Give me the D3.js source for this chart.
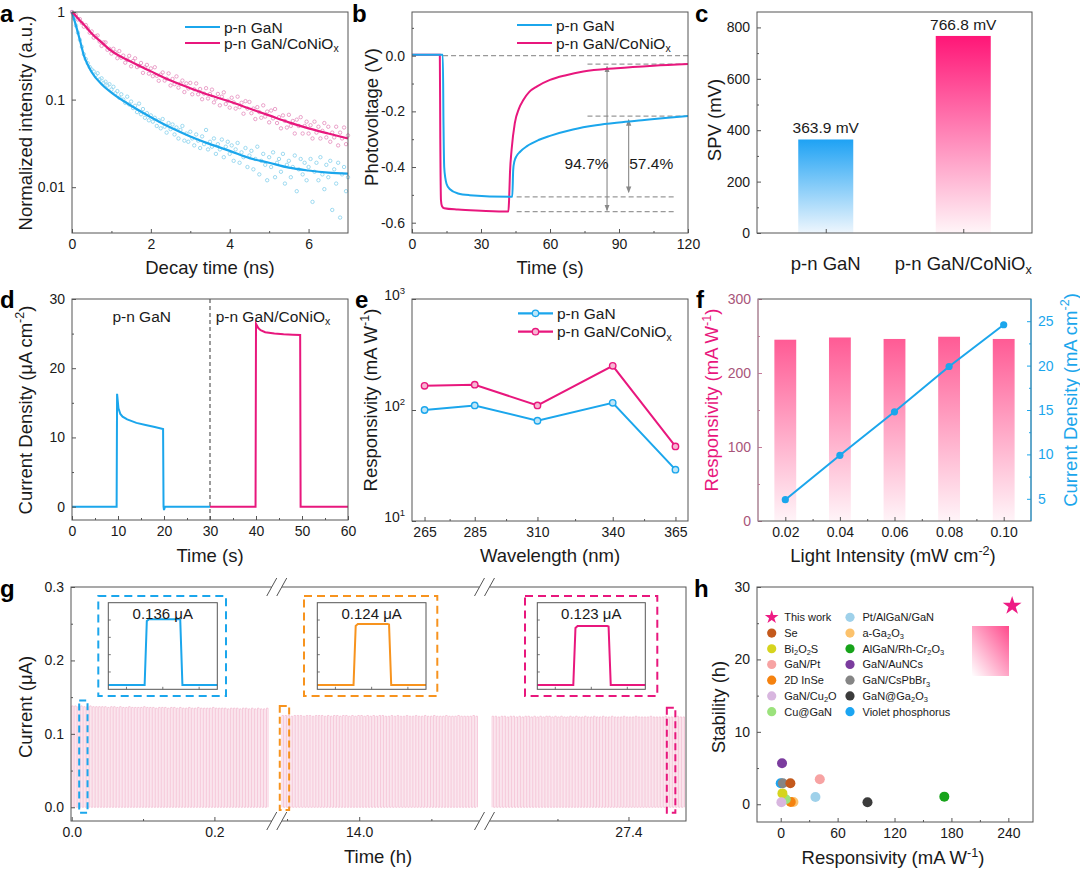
<!DOCTYPE html>
<html><head><meta charset="utf-8">
<script src="https://cdn.jsdelivr.net/npm/d3@7"></script>
<style>body{margin:0;background:#fff}svg{display:block}</style>
</head><body><svg id="fig" width="1080" height="869"></svg>
<script>
// ---------- data ----------
// a: PL decay (points every decayStep ns)
var decayStep = 0.05;
var decayGaN = [1.0,0.84,0.7,0.58,0.48,0.4,0.33,0.29,0.26,0.235,
  0.22,0.21,0.19,0.2,0.17,0.175,0.155,0.16,0.145,0.15,
  0.13,0.14,0.118,0.125,0.105,0.115,0.1,0.092,0.108,0.088,
  0.095,0.08,0.085,0.072,0.09,0.068,0.078,0.062,0.07,0.058,
  0.066,0.056,0.062,0.05,0.058,0.047,0.06,0.049,0.042,0.054,
  0.046,0.052,0.04,0.048,0.036,0.045,0.05,0.034,0.041,0.033,
  0.043,0.036,0.03,0.04,0.034,0.028,0.038,0.031,0.045,0.027,
  0.033,0.029,0.036,0.024,0.031,0.027,0.035,0.022,0.029,0.033,
  0.024,0.03,0.02,0.027,0.032,0.019,0.025,0.022,0.028,0.017,
  0.023,0.026,0.016,0.021,0.029,0.014,0.02,0.024,0.018,0.012,
  0.022,0.017,0.025,0.013,0.019,0.021,0.015,0.024,0.011,0.018,
  0.02,0.013,0.017,0.023,0.009,0.016,0.021,0.014,0.019,0.012,
  0.017,0.021,0.0068,0.015,0.019,0.012,0.022,0.014,0.0095,0.018,
  0.013,0.02,0.0055,0.016,0.011,0.019,0.0045,0.014,0.017,0.009,0.013];
var decayCo = [1,0.93,0.93,0.82,0.83,0.75,0.68,0.71,0.65,0.58,
  0.6,0.51,0.53,0.54,0.46,0.41,0.45,0.45,0.37,0.38,
  0.335,0.38,0.347,0.297,0.358,0.3,0.318,0.264,0.285,0.316,
  0.24,0.276,0.296,0.235,0.242,0.262,0.202,0.233,0.249,0.198,
  0.227,0.185,0.234,0.187,0.164,0.193,0.204,0.165,0.173,0.199,
  0.145,0.172,0.15,0.184,0.137,0.152,0.165,0.122,0.153,0.134,
  0.155,0.115,0.131,0.153,0.115,0.132,0.101,0.117,0.135,0.103,
  0.116,0.13,0.093,0.103,0.116,0.086,0.108,0.121,0.089,0.097,
  0.081,0.105,0.093,0.079,0.108,0.082,0.092,0.069,0.096,0.079,
  0.094,0.07,0.079,0.06,0.082,0.072,0.062,0.086,0.064,0.073,
  0.055,0.075,0.061,0.078,0.054,0.063,0.047,0.066,0.057,0.048,
  0.067,0.05,0.057,0.041,0.059,0.05,0.063,0.041,0.05,0.056,
  0.041,0.051,0.036,0.056,0.042,0.049,0.036,0.044,0.054,0.037,
  0.049,0.033,0.042,0.037,0.049,0.03,0.042,0.036,0.048,0.031,0.039];
var fitTime = [0,0.1,0.2,0.3,0.4,0.5,0.75,1,1.5,2,2.5,3,3.5,4,4.5,5,5.5,6,6.5,7];
var fitGaN = [1,0.7,0.48,0.32,0.25,0.205,0.15,0.12,0.085,0.063,0.048,0.038,0.031,0.026,0.0215,0.019,0.0167,0.0155,0.0147,0.0143];
var fitCo = [1,0.9,0.8,0.72,0.64,0.57,0.45,0.36,0.27,0.21,0.165,0.135,0.112,0.095,0.079,0.066,0.055,0.047,0.041,0.036];

// b: photovoltage transients
var pvTimeGaN = [0,13.4,13.7,14,14.5,15,16.5,20,25,43.6,44,44.5,45.5,47,50,55,60,70,80,90,100,110,120];
var pvGaN = [0.003,0.003,-0.25,-0.4,-0.44,-0.46,-0.48,-0.495,-0.501,-0.507,-0.41,-0.38,-0.36,-0.345,-0.325,-0.303,-0.288,-0.265,-0.25,-0.24,-0.232,-0.224,-0.217];
var pvTimeCo = [0,12.1,12.3,12.6,13,14,20,30,41.9,42.2,42.6,43.3,44.7,46.5,48.4,51,54.2,60,67,74.5,89,105,120];
var pvCo = [0.003,0.003,-0.3,-0.52,-0.54,-0.548,-0.553,-0.557,-0.56,-0.52,-0.42,-0.338,-0.242,-0.19,-0.159,-0.13,-0.111,-0.087,-0.07,-0.057,-0.045,-0.036,-0.03];
var pvLevels = [0, -0.03, -0.217, -0.507, -0.56];
var pvPercent = ["94.7%", "57.4%"];

// c: SPV
var spvLabels = ["p-n GaN", "p-n GaN/CoNiO_{x}"];
var spvValues = [363.9, 766.8];

// d: current density on/off
var jTimeGaN = [0,9.7,9.8,10.1,10.5,11,12,14,16,18,19.8,19.9,20,20.2,30];
var jGaN = [0,0,16.3,14.2,13.4,13,12.6,12.1,11.8,11.5,11.2,0,-0.5,0,0];
var jTimeCo = [30,39.9,40,40.5,41,42,44,46,48,49.6,49.7,60];
var jCo = [0,0,26.4,25.8,25.5,25.2,25,24.9,24.85,24.8,0,0];

// e: responsivity vs wavelength
var wavelength = [265,285,310,340,365];
var respGaN = [100,110,80,116,29];
var respCo = [165,169,110,250,47];

// f: light intensity dependence
var lightInt = [0.02,0.04,0.06,0.08,0.10];
var fResp = [245,248,246,249,246];
var fCurrent = [4.9,9.9,14.8,19.9,24.6];

// g: long-term switching (amplitudes in nA, one per pulse)
var gPeriod = 0.0042; // h per on/off cycle
var gStart = [0, 13.893, 27.208];
var gAmp1 = [138,138,137,138,137,137,138,137,137,137,137,137,136,137,137,136,137,136,136,137,
  136,136,136,136,137,136,136,136,135,136,136,136,135,136,136,135,136,135,135,136,
  135,135,136,135,135,135,135,136,135,135,135,135,134,135,135,135,134,135,135,134,135,134,135,134,134,135];
var gAmp2 = [125,125,125,124,125,125,125,124,125,125,124,125,125,125,124,125,124,125,125,124,
  125,125,124,125,124,125,125,124,125,124,125,124,125,125,124,124,125,124,125,124,
  124,125,124,124,125,124,124,125,124,124,125,124,124,124,125,124,124,124,125,124,124,124,124,125,124];
var gAmp3 = [124,124,123,124,124,123,124,124,123,124,123,124,124,123,124,123,124,123,124,124,
  123,124,123,124,123,123,124,123,124,123,123,124,123,123,124,123,123,124,123,123,
  124,123,123,123,124,123,123,123,124,123,123,123,123,124,123,123,123,123,124,123,123,123,124,123,123];
var gInsetTime = [0,10.0,10.6,11.2,19.4,19.8,20.4,30];
var gInset1 = [0,0,0.132,0.136,0.136,0.135,0,0];
var gInset2 = [0,0,0.12,0.124,0.124,0.123,0,0];
var gInset3 = [0,0,0.119,0.123,0.123,0.122,0,0];
var gInsetLabels = ["0.136 \u03bcA", "0.124 \u03bcA", "0.123 \u03bcA"];
var gMarked = [[0.0105,0.0222,-0.0074,0.1454],[13.8899,13.9029,-0.0037,0.138],[27.454,27.466,-0.0074,0.1355]];

// h: comparison
var hNames = ["This work","Se","Bi_{2}O_{2}S","GaN/Pt","2D InSe","GaN/Cu_{2}O","Cu@GaN","Pt/AlGaN/GaN","a-Ga_{2}O_{3}","AlGaN/Rh-Cr_{2}O_{3}","GaN/AuNCs","GaN/CsPbBr_{3}","GaN@Ga_{2}O_{3}","Violet phosphorus"];
var hResp = [244,10.2,1.8,41.2,10.6,0.7,5.3,36.6,13.4,172.5,1.4,2.2,91.5,0];
var hStab = [27.4,2.9,1.5,3.45,0.32,0.28,0.7,1.0,0.3,1.05,5.67,2.9,0.28,2.9];
var hColors = ["#ee1b84","#c4591c","#d6d41e","#f7a3a3","#f5820f","#d8b6df","#9be27c","#9fd1ea","#fcc26c","#17a31a","#7b3c9e","#858585","#3b3b3b","#1ba5f2"];
var hOrder = [13,8,4,6,2,5,11,1,10,3,7,12,9,0];

// ---------- helpers ----------
var svg = d3.select("#fig");
var FONT = "'Liberation Sans', Arial, Helvetica, sans-serif";
var AXC = "#555", TXT = "#1a1a1a", BLUE = "#1ba6ec", PINK = "#e8177d";
svg.attr("font-family", FONT);
var defs = svg.append("defs");

function grad(id, top, bot, diag) {
  var lg = defs.append("linearGradient").attr("id", id);
  if (diag) lg.attr("x1", 1).attr("y1", 0).attr("x2", 0).attr("y2", 1);
  else lg.attr("x1", 0).attr("y1", 0).attr("x2", 0).attr("y2", 1);
  lg.append("stop").attr("offset", 0).attr("stop-color", top);
  lg.append("stop").attr("offset", 1).attr("stop-color", bot);
}
grad("gBlue", "#1ea2f4", "#eef6fd");
grad("gPink", "#ff1677", "#fff5f8");
grad("gPinkF", "#ff5b95", "#fff4f8");
grad("gPinkH", "#ff4a8c", "#ffffff", true);

var mk = defs.append("marker").attr("id", "arr").attr("viewBox", "0 0 10 10").attr("refX", 9).attr("refY", 5)
  .attr("markerWidth", 6).attr("markerHeight", 6).attr("orient", "auto-start-reverse");
mk.append("path").attr("d", "M0,1L10,5L0,9Z").attr("fill", "#888");

function rich(t, s, size) {
  var parts = String(s).split(/([\^_]\{[^}]*\})/);
  var off = 0;
  parts.forEach(function (p) {
    if (!p) return;
    var sh = 0, txt = p, small = false;
    if (/^[\^_]\{/.test(p)) { small = true; txt = p.slice(2, -1); sh = p[0] === "^" ? -0.4 * size : 0.22 * size; }
    var ts = t.append("tspan").attr("dy", sh - off).text(txt);
    if (small) ts.attr("font-size", size * 0.68);
    off = sh;
  });
}
function label(g, x, y, s, size, o) {
  o = o || {};
  var t = g.append("text").attr("x", x).attr("y", y).attr("font-size", size)
    .attr("fill", o.fill || TXT).attr("text-anchor", o.anchor || "middle");
  if (o.rotate) t.attr("transform", "rotate(-90," + x + "," + y + ")");
  if (o.weight) t.attr("font-weight", o.weight);
  rich(t, s, size);
  return t;
}
function styleAx(ax, col, tcol) {
  ax.attr("font-family", FONT).attr("font-size", 14);
  ax.select(".domain").remove();
  ax.selectAll(".tick line").attr("stroke", col || AXC);
  ax.selectAll(".tick text").attr("fill", tcol || TXT);
  return ax;
}
var blank = function () { return ""; };
function bottomAxis(g, x, yPos, ticks, fmt, minor) {
  var ax = styleAx(g.append("g").attr("transform", "translate(0," + yPos + ")")
    .call(d3.axisBottom(x).tickValues(ticks).tickFormat(fmt).tickSizeInner(-4).tickSizeOuter(0).tickPadding(6)));
  if (minor) styleAx(g.append("g").attr("transform", "translate(0," + yPos + ")")
    .call(d3.axisBottom(x).tickValues(minor).tickFormat(blank).tickSizeInner(-2).tickSizeOuter(0)));
  return ax;
}
function leftAxis(g, y, xPos, ticks, fmt, minor, col, tcol) {
  var ax = styleAx(g.append("g").attr("transform", "translate(" + xPos + ",0)")
    .call(d3.axisLeft(y).tickValues(ticks).tickFormat(fmt).tickSizeInner(-4).tickSizeOuter(0).tickPadding(7)), col, tcol);
  if (minor) styleAx(g.append("g").attr("transform", "translate(" + xPos + ",0)")
    .call(d3.axisLeft(y).tickValues(minor).tickFormat(blank).tickSizeInner(-2).tickSizeOuter(0)), col);
  return ax;
}
function frame(g, L, col) {
  g.append("rect").attr("x", L.l).attr("y", L.t).attr("width", L.r - L.l).attr("height", L.b - L.t)
    .attr("fill", "none").attr("stroke", col || AXC).attr("stroke-width", 1);
}
function legendLine(g, x0, x1, y, color, text, dot) {
  g.append("line").attr("x1", x0).attr("x2", x1).attr("y1", y).attr("y2", y).attr("stroke", color).attr("stroke-width", 2.2);
  if (dot) g.append("circle").attr("cx", (x0 + x1) / 2).attr("cy", y).attr("r", 3.2).attr("fill", dot).attr("stroke", color).attr("stroke-width", 1.3);
  label(g, x1 + 4, y + 5.5, text, 15.5, { anchor: "start" });
}
function panelTag(g, x, y, s) { label(g, x, y, s, 24, { anchor: "start", weight: "bold", fill: "#000" }); }
function fx(v) { return function (d) { return d.toFixed(v); }; }

// ---------- a ----------
(function () {
  var L = { l: 72, r: 348, t: 12, b: 233 };
  var g = svg.append("g");
  var x = d3.scaleLinear().domain([0, 7]).range([L.l, L.r]);
  var y = d3.scaleLog().domain([0.003, 1]).range([L.b, L.t]);
  [[decayGaN, "#86d0ec"], [decayCo, "#e58cbc"]].forEach(function (s) {
    g.append("g").selectAll("circle").data(s[0]).join("circle")
      .attr("cx", function (d, i) { return x(i * decayStep); }).attr("cy", function (d) { return y(d); })
      .attr("r", 1.7).attr("fill", "none").attr("stroke", s[1]).attr("stroke-width", 0.8);
  });
  [[fitGaN, BLUE], [fitCo, PINK]].forEach(function (s) {
    g.append("path").datum(s[0]).attr("fill", "none").attr("stroke", s[1]).attr("stroke-width", 2.2)
      .attr("d", d3.line().x(function (d, i) { return x(fitTime[i]); }).y(function (d) { return y(d); }).curve(d3.curveMonotoneX));
  });
  bottomAxis(g, x, L.b, [0, 2, 4, 6], fx(0), [1, 3, 5]);
  leftAxis(g, y, L.l, [1, 0.1, 0.01], function (d) { return String(d); });
  frame(g, L);
  legendLine(g, 185, 220, 27, BLUE, "p-n GaN");
  legendLine(g, 185, 220, 43, PINK, "p-n GaN/CoNiO_{x}");
  label(g, 210, 274, "Decay time (ns)", 18.5);
  label(g, 31.5, 123, "Normalized intensity (a.u.)", 18.5, { rotate: true });
  panelTag(g, 0, 22, "a");
})();

// ---------- b ----------
(function () {
  var L = { l: 412, r: 688, t: 12, b: 233 };
  var g = svg.append("g");
  var x = d3.scaleLinear().domain([0, 120]).range([L.l, L.r]);
  var y = d3.scaleLinear().domain([-0.637, 0.157]).range([L.b, L.t]);
  var guides = [[pvLevels[0], 13.5, 120], [pvLevels[1], 76.3, 120], [pvLevels[2], 76.3, 120], [pvLevels[3], 45.5, 115], [pvLevels[4], 45.5, 115]];
  guides.forEach(function (d) {
    g.append("line").attr("x1", x(d[1])).attr("x2", x(d[2])).attr("y1", y(d[0])).attr("y2", y(d[0]))
      .attr("stroke", "#999").attr("stroke-width", 1.2).attr("stroke-dasharray", "5,3");
  });
  [[84.8, -0.039, -0.556], [94.2, -0.23, -0.491]].forEach(function (d) {
    g.append("line").attr("x1", x(d[0])).attr("x2", x(d[0])).attr("y1", y(d[1])).attr("y2", y(d[2]))
      .attr("stroke", "#888").attr("stroke-width", 1.1).attr("marker-start", "url(#arr)").attr("marker-end", "url(#arr)");
  });
  [[pvTimeCo, pvCo, PINK], [pvTimeGaN, pvGaN, BLUE]].forEach(function (s) {
    g.append("path").datum(s[1]).attr("fill", "none").attr("stroke", s[2]).attr("stroke-width", 2)
      .attr("d", d3.line().x(function (d, i) { return x(s[0][i]); }).y(function (d) { return y(d); }).curve(d3.curveMonotoneX));
  });
  label(g, x(75.9), y(-0.386) + 5.5, pvPercent[0], 15.5);
  label(g, x(104), y(-0.386) + 5.5, pvPercent[1], 15.5);
  bottomAxis(g, x, L.b, [0, 30, 60, 90, 120], fx(0), [15, 45, 75, 105]);
  leftAxis(g, y, L.l, [0, -0.2, -0.4, -0.6], fx(1), [0.1, -0.1, -0.3, -0.5]);
  frame(g, L);
  legendLine(g, 517, 552, 25, BLUE, "p-n GaN");
  legendLine(g, 517, 552, 43, PINK, "p-n GaN/CoNiO_{x}");
  label(g, 550, 274, "Time (s)", 18.5);
  label(g, 378, 117, "Photovoltage (V)", 18.5, { rotate: true });
  panelTag(g, 352, 22, "b");
})();

// ---------- c ----------
(function () {
  var L = { l: 757, r: 1032, t: 12, b: 233 };
  var g = svg.append("g");
  var x = d3.scalePoint().domain(spvLabels).range([L.l, L.r]).padding(0.5);
  var y = d3.scaleLinear().domain([0, 860]).range([L.b, L.t]);
  g.selectAll(".bar").data(spvValues).join("rect")
    .attr("x", function (d, i) { return x(spvLabels[i]) - 27.5; }).attr("width", 55)
    .attr("y", function (d) { return y(d); }).attr("height", function (d) { return y(0) - y(d); })
    .attr("fill", function (d, i) { return i ? "url(#gPink)" : "url(#gBlue)"; });
  spvValues.forEach(function (d, i) { label(g, x(spvLabels[i]), y(d) - 6, d.toFixed(1) + " mV", 15.5); });
  styleAx(g.append("g").attr("transform", "translate(0," + L.b + ")")
    .call(d3.axisBottom(x).tickFormat(blank).tickSizeInner(-4).tickSizeOuter(0)));
  spvLabels.forEach(function (s) { label(g, x(s), 269.5, s, 18.5); });
  leftAxis(g, y, L.l, [0, 200, 400, 600, 800], fx(0), [100, 300, 500, 700]);
  frame(g, L);
  label(g, 721, 120, "SPV (mV)", 18.5, { rotate: true });
  panelTag(g, 695, 22, "c");
})();

// ---------- d ----------
(function () {
  var L = { l: 72, r: 348, t: 299, b: 520 };
  var g = svg.append("g");
  var x = d3.scaleLinear().domain([0, 60]).range([L.l, L.r]);
  var y = d3.scaleLinear().domain([-1.93, 30]).range([L.b, L.t]);
  g.append("line").attr("x1", x(30)).attr("x2", x(30)).attr("y1", L.t).attr("y2", L.b)
    .attr("stroke", "#666").attr("stroke-width", 1.3).attr("stroke-dasharray", "4,3");
  [[jTimeGaN, jGaN, BLUE], [jTimeCo, jCo, PINK]].forEach(function (s) {
    g.append("path").datum(s[1]).attr("fill", "none").attr("stroke", s[2]).attr("stroke-width", 2)
      .attr("d", d3.line().x(function (d, i) { return x(s[0][i]); }).y(function (d) { return y(d); }));
  });
  bottomAxis(g, x, L.b, [0, 10, 20, 30, 40, 50, 60], fx(0), [5, 15, 25, 35, 45, 55]);
  leftAxis(g, y, L.l, [0, 10, 20, 30], fx(0), [5, 15, 25]);
  frame(g, L);
  label(g, 141.7, 322, "p-n GaN", 15.5);
  label(g, 273, 322, "p-n GaN/CoNiO_{x}", 15.5);
  label(g, 210, 562, "Time (s)", 18.5);
  label(g, 31.5, 410, "Current Density (\u03bcA cm^{-2})", 18.5, { rotate: true });
  panelTag(g, 0, 308, "d");
})();

// ---------- e ----------
(function () {
  var L = { l: 412, r: 688, t: 299, b: 521 };
  var g = svg.append("g");
  var x = d3.scaleLinear().domain([260, 370]).range([L.l, L.r]);
  var y = d3.scaleLog().domain([10, 1000]).range([L.b, L.t]);
  [[respGaN, BLUE, "#bfe6f8"], [respCo, PINK, "#f7b5d2"]].forEach(function (s) {
    g.append("path").datum(s[0]).attr("fill", "none").attr("stroke", s[1]).attr("stroke-width", 2)
      .attr("d", d3.line().x(function (d, i) { return x(wavelength[i]); }).y(function (d) { return y(d); }));
    g.append("g").selectAll("circle").data(s[0]).join("circle")
      .attr("cx", function (d, i) { return x(wavelength[i]); }).attr("cy", function (d) { return y(d); })
      .attr("r", 3.2).attr("fill", s[2]).attr("stroke", s[1]).attr("stroke-width", 1.4);
  });
  bottomAxis(g, x, L.b, wavelength, fx(0), [275, 297.5, 325, 352.5]);
  var ay = leftAxis(g, y, L.l, [10, 100, 1000], blank);
  ay.selectAll(".tick text").each(function (d) {
    var t = d3.select(this); t.text(""); rich(t, "10^{" + Math.round(Math.log10(d)) + "}", 14);
  });
  frame(g, L);
  legendLine(g, 518, 553, 313.3, BLUE, "p-n GaN", "#bfe6f8");
  legendLine(g, 518, 553, 331.7, PINK, "p-n GaN/CoNiO_{x}", "#f7b5d2");
  label(g, 550, 562, "Wavelength (nm)", 18.5);
  label(g, 376.5, 400, "Responsivity (mA W^{-1})", 18.5, { rotate: true });
  panelTag(g, 355, 308, "e");
})();

// ---------- f ----------
(function () {
  var L = { l: 758, r: 1031, t: 299, b: 521 };
  var g = svg.append("g");
  var x = d3.scaleLinear().domain([0.01, 0.11]).range([L.l, L.r]);
  var yL = d3.scaleLinear().domain([0, 300]).range([L.b, L.t]);
  var yR = d3.scaleLinear().domain([2.5, 27.5]).range([L.b, L.t]);
  g.append("g").selectAll("rect").data(fResp).join("rect")
    .attr("x", function (d, i) { return x(lightInt[i] - 0.004); })
    .attr("width", function (d, i) { return x(lightInt[i] + 0.004) - x(lightInt[i] - 0.004); })
    .attr("y", function (d) { return yL(d); }).attr("height", function (d) { return yL(0) - yL(d); })
    .attr("fill", "url(#gPinkF)");
  g.append("path").datum(fCurrent).attr("fill", "none").attr("stroke", BLUE).attr("stroke-width", 2)
    .attr("d", d3.line().x(function (d, i) { return x(lightInt[i]); }).y(function (d) { return yR(d); }));
  g.append("g").selectAll("circle").data(fCurrent).join("circle")
    .attr("cx", function (d, i) { return x(lightInt[i]); }).attr("cy", function (d) { return yR(d); })
    .attr("r", 3.6).attr("fill", BLUE);
  bottomAxis(g, x, L.b, lightInt, fx(2), [0.03, 0.05, 0.07, 0.09]);
  leftAxis(g, yL, L.l, [0, 100, 200, 300], fx(0), [50, 150, 250], "#c77a9a", "#a8557a");
  styleAx(g.append("g").attr("transform", "translate(" + L.r + ",0)")
    .call(d3.axisRight(yR).tickValues([5, 10, 15, 20, 25]).tickFormat(fx(0)).tickSizeInner(-4).tickSizeOuter(0).tickPadding(7)), BLUE, BLUE);
  styleAx(g.append("g").attr("transform", "translate(" + L.r + ",0)")
    .call(d3.axisRight(yR).tickValues([7.5, 12.5, 17.5, 22.5]).tickFormat(blank).tickSizeInner(-2).tickSizeOuter(0)), BLUE);
  frame(g, L);
  g.append("line").attr("x1", L.l).attr("x2", L.l).attr("y1", L.t).attr("y2", L.b).attr("stroke", "#d69ab3");
  g.append("line").attr("x1", L.r).attr("x2", L.r).attr("y1", L.t).attr("y2", L.b).attr("stroke", BLUE);
  label(g, 893, 562, "Light Intensity (mW cm^{-2})", 18.5);
  label(g, 718, 400, "Responsivity (mA W^{-1})", 18.5, { rotate: true, fill: PINK });
  label(g, 1076.5, 400, "Current Density (mA cm^{-2})", 18.5, { rotate: true, fill: BLUE });
  panelTag(g, 696, 308, "f");
})();

// ---------- g ----------
(function () {
  var L = { l: 71, r: 686, t: 587, b: 821 };
  var g = svg.append("g");
  var y = d3.scaleLinear().domain([-0.0187, 0.3]).range([L.b, L.t]);
  var segs = [
    { x: d3.scaleLinear().domain([0, 0.28]).range([71.7, 271.5]), ticks: [0, 0.2], minor: [0.1], amps: gAmp1 },
    { x: d3.scaleLinear().domain([13.893, 14.166]).range([282, 479]), ticks: [14.0], minor: [13.9, 14.1], amps: gAmp2 },
    { x: d3.scaleLinear().domain([27.205, 27.481]).range([490, 686]), ticks: [27.4], minor: [27.3], amps: gAmp3 }
  ];
  segs.forEach(function (s, si) {
    var pts = [];
    s.amps.forEach(function (a, k) {
      var t0 = gStart[si] + k * gPeriod, t1 = t0 + gPeriod / 2;
      pts.push([t0, 0], [t0, a / 1000], [t1, a / 1000], [t1, 0]);
    });
    g.append("path").datum(pts).attr("fill", "none").attr("stroke", "#f2b3cc").attr("stroke-width", 0.7)
      .attr("d", d3.line().x(function (d) { return Math.min(s.x(d[0]), L.r); }).y(function (d) { return y(d[1]); }));
    bottomAxis(g, s.x, L.b, s.ticks, fx(1), s.minor);
  });
  leftAxis(g, y, L.l, [0, 0.1, 0.2, 0.3], fx(1), [0.05, 0.15, 0.25]);
  frame(g, L);
  // axis breaks
  [(271.5 + 282) / 2, (479 + 490) / 2].forEach(function (cx) {
    [L.t, L.b].forEach(function (cy) {
      g.append("rect").attr("x", cx - 5).attr("y", cy - 2).attr("width", 10).attr("height", 4).attr("fill", "#fff");
      [-5, 5].forEach(function (o) {
        g.append("line").attr("x1", cx + o - 5).attr("y1", cy + 9).attr("x2", cx + o + 5).attr("y2", cy - 9).attr("stroke", AXC).attr("stroke-width", 1);
      });
    });
  });
  var cols = [BLUE, "#f7931e", PINK];
  // marked pulses
  gMarked.forEach(function (m, i) {
    var s = segs[i];
    g.append("rect").attr("x", s.x(m[0])).attr("y", y(m[3])).attr("width", s.x(m[1]) - s.x(m[0])).attr("height", y(m[2]) - y(m[3]))
      .attr("fill", "none").attr("stroke", cols[i]).attr("stroke-width", 2).attr("stroke-dasharray", "7,4");
  });
  // insets
  var insets = [
    { outer: [98.3, 596, 226, 696], inner: [108.3, 602.7, 217.3, 689.3], data: gInset1, yd: [-0.009, 0.17] },
    { outer: [304, 596, 437.3, 696], inner: [317.3, 602.7, 426, 689.3], data: gInset2, yd: [-0.0087, 0.167] },
    { outer: [525, 596, 657.3, 696], inner: [537.3, 602.7, 645.3, 689.3], data: gInset3, yd: [-0.009, 0.1715] }
  ];
  insets.forEach(function (ins, i) {
    var o = ins.outer, n = ins.inner;
    g.append("rect").attr("x", o[0]).attr("y", o[1]).attr("width", o[2] - o[0]).attr("height", o[3] - o[1])
      .attr("fill", "#fff").attr("stroke", cols[i]).attr("stroke-width", 2).attr("stroke-dasharray", "8,5");
    var ix = d3.scaleLinear().domain([0, 30]).range([n[0], n[2]]);
    var iy = d3.scaleLinear().domain(ins.yd).range([n[3], n[1]]);
    g.append("path").datum(ins.data).attr("fill", "none").attr("stroke", cols[i]).attr("stroke-width", 2)
      .attr("d", d3.line().x(function (d, k) { return ix(gInsetTime[k]); }).y(function (d) { return iy(d); }));
    var lt = ins.yd[1] - ins.yd[0];
    [0.2, 0.4, 0.6, 0.8].forEach(function (f) {
      var yy = iy(ins.yd[0] + f * lt);
      g.append("line").attr("x1", n[0]).attr("x2", n[0] + 2.5).attr("y1", yy).attr("y2", yy).attr("stroke", AXC).attr("stroke-width", 0.8);
    });
    [5, 15, 25].forEach(function (t) {
      g.append("line").attr("x1", ix(t)).attr("x2", ix(t)).attr("y1", n[3]).attr("y2", n[3] - 2.5).attr("stroke", AXC).attr("stroke-width", 0.8);
    });
    g.append("rect").attr("x", n[0]).attr("y", n[1]).attr("width", n[2] - n[0]).attr("height", n[3] - n[1])
      .attr("fill", "none").attr("stroke", AXC).attr("stroke-width", 1);
    label(g, (n[0] + n[2]) / 2, 618.5, gInsetLabels[i], 15);
  });
  label(g, 378, 863, "Time (h)", 18.5);
  label(g, 31.5, 707, "Current (\u03bcA)", 18.5, { rotate: true });
  panelTag(g, 0, 597, "g");
})();

// ---------- h ----------
(function () {
  var L = { l: 757, r: 1033, t: 587, b: 822 };
  var g = svg.append("g");
  var x = d3.scaleLinear().domain([-25, 266]).range([L.l, L.r]);
  var y = d3.scaleLinear().domain([-2.45, 30]).range([L.b, L.t]);
  g.append("rect").attr("x", 972).attr("y", 626).attr("width", 37).attr("height", 50).attr("fill", "url(#gPinkH)");
  var star = d3.symbol().type(d3.symbolStar);
  hOrder.forEach(function (i) {
    if (i === 0) {
      g.append("path").attr("d", star.size(110)()).attr("fill", hColors[i])
        .attr("transform", "translate(" + x(hResp[i]) + "," + y(hStab[i]) + ")");
    } else {
      g.append("circle").attr("cx", x(hResp[i])).attr("cy", y(hStab[i])).attr("r", 5).attr("fill", hColors[i]);
    }
  });
  bottomAxis(g, x, L.b, [0, 60, 120, 180, 240], fx(0), [30, 90, 150, 210]);
  leftAxis(g, y, L.l, [0, 10, 20, 30], fx(0), [5, 15, 25]);
  frame(g, L);
  hNames.forEach(function (nm, i) {
    var col = i < 7 ? 0 : 1, row = i % 7;
    var mx = col ? 850 : 771.7, my = 617.3 + row * 15.73;
    if (i === 0) g.append("path").attr("d", star.size(58)()).attr("fill", hColors[i]).attr("transform", "translate(" + mx + "," + my + ")");
    else g.append("circle").attr("cx", mx).attr("cy", my).attr("r", 4.6).attr("fill", hColors[i]);
    label(g, mx + 12.5, my + 4, nm, 11, { anchor: "start" });
  });
  label(g, 893, 864, "Responsivity (mA W^{-1})", 18.5);
  label(g, 724.5, 707, "Stability (h)", 18.5, { rotate: true });
  panelTag(g, 694, 597, "h");
})();
</script></body></html>
